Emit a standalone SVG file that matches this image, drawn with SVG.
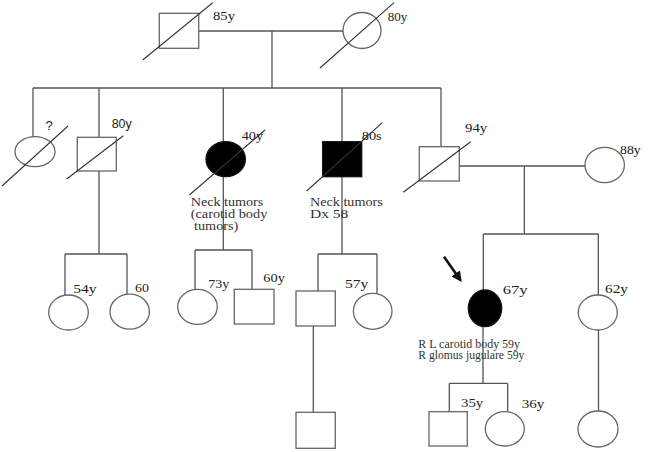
<svg xmlns="http://www.w3.org/2000/svg" width="651" height="452" viewBox="0 0 651 452">
<defs>
<style>
.ln{stroke:#555;stroke-width:1.3;fill:none}
.sh{stroke:#666;stroke-width:1.3;fill:#fff}
.af{stroke:#111;stroke-width:1.3;fill:#000}
.dg{stroke:#333;stroke-width:1.1}
.age{font-family:"Liberation Serif","Times New Roman",serif;font-size:13px;fill:#222}
.sans{font-family:"Liberation Sans",Arial,sans-serif;font-size:13px;fill:#222}
.note{font-family:"Liberation Serif","Times New Roman",serif;font-size:12px;fill:#333}
.nt{font-family:"Liberation Serif","Times New Roman",serif;font-size:11.5px;fill:#333}
</style>
<marker id="ah" viewBox="0 0 10 10" refX="8" refY="5" markerWidth="4" markerHeight="4" orient="auto">
<path d="M0,0 L10,5 L0,10 z" fill="#111"/>
</marker>
</defs>
<rect width="651" height="452" fill="#fff"/>
<g id="connectors">
<line class="ln" x1="199" y1="31" x2="343" y2="31"/>
<line class="ln" x1="272" y1="31" x2="272" y2="88"/>
<line class="ln" x1="33" y1="88" x2="441" y2="88"/>
<line class="ln" x1="33" y1="88" x2="33" y2="137"/>
<line class="ln" x1="99" y1="88" x2="99" y2="137.3"/>
<line class="ln" x1="223.3" y1="88" x2="223.3" y2="142"/>
<line class="ln" x1="342" y1="88" x2="342" y2="141.7"/>
<line class="ln" x1="441" y1="88" x2="441" y2="146.7"/>
<line class="ln" x1="99" y1="171" x2="99" y2="254"/>
<line class="ln" x1="65" y1="254" x2="127" y2="254"/>
<line class="ln" x1="65" y1="254" x2="65" y2="295"/>
<line class="ln" x1="127" y1="254" x2="127" y2="294"/>
<line class="ln" x1="223.3" y1="176.5" x2="223.3" y2="250"/>
<line class="ln" x1="195" y1="250" x2="252" y2="250"/>
<line class="ln" x1="195" y1="250" x2="195" y2="289.5"/>
<line class="ln" x1="252" y1="250" x2="252" y2="289.3"/>
<line class="ln" x1="342" y1="176.7" x2="342" y2="254"/>
<line class="ln" x1="318" y1="254" x2="377" y2="254"/>
<line class="ln" x1="318" y1="254" x2="318" y2="291"/>
<line class="ln" x1="377" y1="254" x2="377" y2="293.3"/>
<line class="ln" x1="313.3" y1="326" x2="313.3" y2="412.3"/>
<line class="ln" x1="459.3" y1="166" x2="585" y2="166"/>
<line class="ln" x1="524.3" y1="166" x2="524.3" y2="234"/>
<line class="ln" x1="483.3" y1="234" x2="598.3" y2="234"/>
<line class="ln" x1="483.3" y1="234" x2="483.3" y2="290"/>
<line class="ln" x1="598.3" y1="234" x2="598.3" y2="295"/>
<line class="ln" x1="483" y1="326.5" x2="483" y2="383.3"/>
<line class="ln" x1="449.3" y1="383.3" x2="507.7" y2="383.3"/>
<line class="ln" x1="449.3" y1="383.3" x2="449.3" y2="411.7"/>
<line class="ln" x1="507.7" y1="383.3" x2="507.7" y2="411.7"/>
<line class="ln" x1="598.5" y1="330" x2="598.5" y2="411"/>
</g>
<g id="grandfather">
<rect class="sh" x="159.3" y="13.3" width="39.4" height="35"/>
<line class="dg" x1="142.7" y1="60" x2="212.7" y2="2.7"/>
<text class="age" x="213" y="19.5" textLength="22" lengthAdjust="spacingAndGlyphs">85y</text>
</g>
<g id="grandmother">
<ellipse class="sh" cx="362" cy="30.5" rx="19" ry="18"/>
<line class="dg" x1="320" y1="68" x2="394" y2="2.7"/>
<text class="age" x="387.7" y="21" textLength="19.6" lengthAdjust="spacingAndGlyphs">80y</text>
</g>
<g id="sib1">
<ellipse class="sh" cx="35" cy="151.7" rx="20" ry="15"/>
<line class="dg" x1="2" y1="186" x2="68" y2="126"/>
<text class="sans" x="45.5" y="130">?</text>
</g>
<g id="sib2">
<rect class="sh" x="77.3" y="137.3" width="39" height="33.7"/>
<line class="dg" x1="66.7" y1="179" x2="123.3" y2="135.7"/>
<text class="sans" x="111.7" y="128" textLength="20" lengthAdjust="spacingAndGlyphs">80y</text>
</g>
<g id="sib3">
<ellipse class="af" cx="225.7" cy="159.2" rx="19.7" ry="17.5"/>
<line class="dg" x1="189.3" y1="195" x2="265" y2="130"/>
<text class="age" x="241.7" y="140" textLength="21.3" lengthAdjust="spacingAndGlyphs">40y</text>
<text class="note" x="190.7" y="205.5" textLength="72.6" lengthAdjust="spacingAndGlyphs">Neck tumors</text>
<text class="note" x="190.7" y="217.5" textLength="76.6" lengthAdjust="spacingAndGlyphs">(carotid body</text>
<text class="note" x="194" y="229.5" textLength="44.3" lengthAdjust="spacingAndGlyphs">tumors)</text>
</g>
<g id="sib4">
<rect class="af" x="322.7" y="141.7" width="39" height="35"/>
<line class="dg" x1="306.7" y1="191" x2="382.3" y2="122.7"/>
<text class="age" x="361.7" y="140" textLength="20" lengthAdjust="spacingAndGlyphs">80s</text>
<text class="note" x="310" y="205.5" textLength="72.7" lengthAdjust="spacingAndGlyphs">Neck tumors</text>
<text class="note" x="310" y="217.5" textLength="38.3" lengthAdjust="spacingAndGlyphs">Dx  58</text>
</g>
<g id="sib5">
<rect class="sh" x="419.3" y="146.7" width="40" height="34.3"/>
<line class="dg" x1="403.3" y1="192.3" x2="470.7" y2="141.7"/>
<text class="age" x="465" y="131.7" textLength="22.3" lengthAdjust="spacingAndGlyphs">94y</text>
</g>
<g id="spouse">
<ellipse class="sh" cx="604.7" cy="165" rx="19.7" ry="17.7"/>
<text class="age" x="620" y="154" textLength="20.7" lengthAdjust="spacingAndGlyphs">88y</text>
</g>
<g id="c54">
<ellipse class="sh" cx="68.5" cy="312.5" rx="19.8" ry="17.5"/>
<text class="age" x="73.3" y="293.3" textLength="23.3" lengthAdjust="spacingAndGlyphs">54y</text>
</g>
<g id="c60">
<ellipse class="sh" cx="129.7" cy="311.7" rx="19.7" ry="17.5"/>
<text class="age" x="135" y="292.3" textLength="14" lengthAdjust="spacingAndGlyphs">60</text>
</g>
<g id="c73">
<ellipse class="sh" cx="197.5" cy="306.8" rx="19.8" ry="17.5"/>
<text class="age" x="208.3" y="288.3" textLength="21" lengthAdjust="spacingAndGlyphs">73y</text>
</g>
<g id="c60y">
<rect class="sh" x="234.3" y="289.3" width="39.7" height="34.7"/>
<text class="age" x="263.3" y="281.7" textLength="21.7" lengthAdjust="spacingAndGlyphs">60y</text>
</g>
<g id="c_son">
<rect class="sh" x="296" y="291" width="39.3" height="35"/>
</g>
<g id="c57">
<ellipse class="sh" cx="372.7" cy="311.3" rx="19.3" ry="18"/>
<text class="age" x="345" y="288.3" textLength="23.3" lengthAdjust="spacingAndGlyphs">57y</text>
</g>
<g id="gc_son">
<rect class="sh" x="296" y="412.3" width="39.3" height="36"/>
</g>
<g id="proband">
<ellipse class="af" cx="485" cy="308.3" rx="16.7" ry="18.3"/>
<text class="age" x="502.7" y="294" textLength="25" lengthAdjust="spacingAndGlyphs">67y</text>
<line x1="444" y1="256.7" x2="460.5" y2="280.2" stroke="#111" stroke-width="2.6" marker-end="url(#ah)"/>
<text class="nt" x="418.3" y="347.5" textLength="101.7" lengthAdjust="spacingAndGlyphs">R L carotid body 59y</text>
<text class="nt" x="418.3" y="358.8" textLength="106" lengthAdjust="spacingAndGlyphs">R glomus jugulare 59y</text>
</g>
<g id="c62">
<ellipse class="sh" cx="597.8" cy="312.5" rx="19.5" ry="17.5"/>
<text class="age" x="605" y="293.3" textLength="23" lengthAdjust="spacingAndGlyphs">62y</text>
</g>
<g id="gc35">
<rect class="sh" x="429" y="411.7" width="38.3" height="34.3"/>
<text class="age" x="461" y="406.7" textLength="22.3" lengthAdjust="spacingAndGlyphs">35y</text>
</g>
<g id="gc36">
<ellipse class="sh" cx="504.8" cy="428.8" rx="19.5" ry="17.2"/>
<text class="age" x="521.7" y="408.3" textLength="22.7" lengthAdjust="spacingAndGlyphs">36y</text>
</g>
<g id="gc62">
<ellipse class="sh" cx="598" cy="429" rx="20" ry="18"/>
</g>
</svg>
